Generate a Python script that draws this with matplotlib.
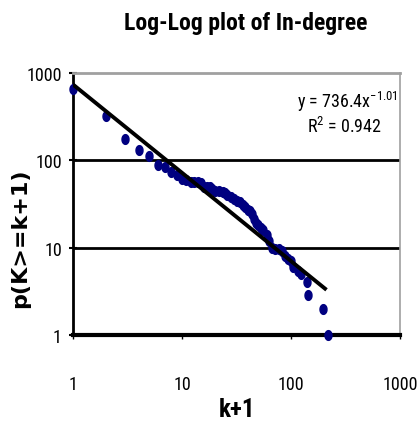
import numpy as np
import matplotlib.pyplot as plt
from matplotlib import font_manager

# in-degree cumulative distribution
k1 = [1, 2, 3, 4, 5, 6, 7, 8, 9, 10, 11, 12, 13, 14, 15, 16, 17, 18, 19, 20,
      22, 24, 25, 26, 28, 30, 32, 34, 36, 38, 40, 42, 44, 46, 48, 50, 53, 56,
      60, 63, 67, 72, 78, 82, 88, 95, 101, 105, 115, 125, 139, 144, 195, 217]
p = [650, 325, 175, 130, 113, 88, 83, 73, 68, 61, 59, 57, 56, 56, 55, 50, 49,
     49, 47, 45, 44, 43, 42, 40, 38, 36, 34, 33, 31, 29, 27, 26, 24, 21, 19,
     18, 17, 16, 14, 12, 10, 9.6, 9.6, 9.2, 8.1, 7.5, 7.1, 6.0, 5.4, 5.0, 4.0,
     2.9, 2.0, 1.0]

# power trendline shown on the chart
coef = 736.4
expo = -1.01
r2 = 0.942

yticks = [1, 10, 100, 1000]
xticks = [1, 10, 100, 1000]

names = {f.name for f in font_manager.fontManager.ttflist}
narrow = 'Liberation Sans'
for cand in ['Liberation Sans Narrow', 'Arial Narrow', 'Roboto Condensed',
             'DejaVu Sans Condensed', 'Open Sans Condensed']:
    if cand in names:
        narrow = cand
        break
plt.rcParams['font.family'] = [narrow, 'DejaVu Sans']
plt.rcParams['mathtext.fontset'] = 'custom'
plt.rcParams['mathtext.rm'] = narrow
plt.rcParams['mathtext.it'] = narrow
plt.rcParams['mathtext.default'] = 'regular'
plt.rcParams['axes.unicode_minus'] = False

fig = plt.figure(figsize=(4.17, 4.27), dpi=100)
ax = fig.add_axes([0.175, 0.213, 0.784, 0.614])

ax.set_xscale('log')
ax.set_yscale('log')
ax.set_xlim(1, 1000)
ax.set_ylim(1, 1000)

# gridlines at 10 and 100
for v in yticks[1:-1]:
    ax.axhline(v, color='black', lw=2, zorder=1)

# oval markers (excel style, a bit taller than wide)
t = np.linspace(0, 2 * np.pi, 40)
oval = np.column_stack([0.72 * np.cos(t), np.sin(t)])
ax.plot(k1, p, linestyle='none', marker=oval, markersize=7,
        color='#000080', zorder=3, clip_on=False)

xs = np.logspace(np.log10(k1[0]), np.log10(k1[-1]) - 0.01, 50)
ax.plot(xs, coef * xs ** expo, color='black', lw=2.8, zorder=4,
        solid_capstyle='butt')

ax.spines['left'].set_linewidth(2)
ax.spines['bottom'].set_linewidth(3)
ax.spines['top'].set_color('#a0a0a0')
ax.spines['top'].set_linewidth(2)
ax.spines['right'].set_color('#a0a0a0')
ax.spines['right'].set_linewidth(1.2)

ax.set_xticks(xticks)
ax.set_xticklabels([str(v) for v in xticks])
ax.set_yticks(yticks)
ax.set_yticklabels([str(v) for v in yticks])
ax.minorticks_off()
ax.tick_params(axis='y', direction='inout', length=6, width=1.5, labelsize=13, pad=5)
ax.tick_params(axis='x', direction='out', length=3, width=1, labelsize=13, pad=26)

ax.text(0.84, 0.893, 'y = %.1fx$^{%.2f}$' % (coef, expo), transform=ax.transAxes,
        ha='center', va='center', fontsize=13)
ax.text(0.832, 0.798, 'R$^2$ = %.3f' % r2, transform=ax.transAxes,
        ha='center', va='center', fontsize=13)

fig.text(0.588, 0.945, 'Log-Log plot of In-degree', ha='center', va='center',
         fontsize=17, fontweight='bold')
fig.text(0.568, 0.04, 'k+1', ha='center', va='center', fontsize=18,
         fontweight='bold')
fig.text(0.048, 0.443, 'p(K>=k+1)', ha='center', va='center', rotation=90,
         fontsize=16, fontweight='bold', family=['DejaVu Sans'])

fig.savefig('out.png', dpi=100)
